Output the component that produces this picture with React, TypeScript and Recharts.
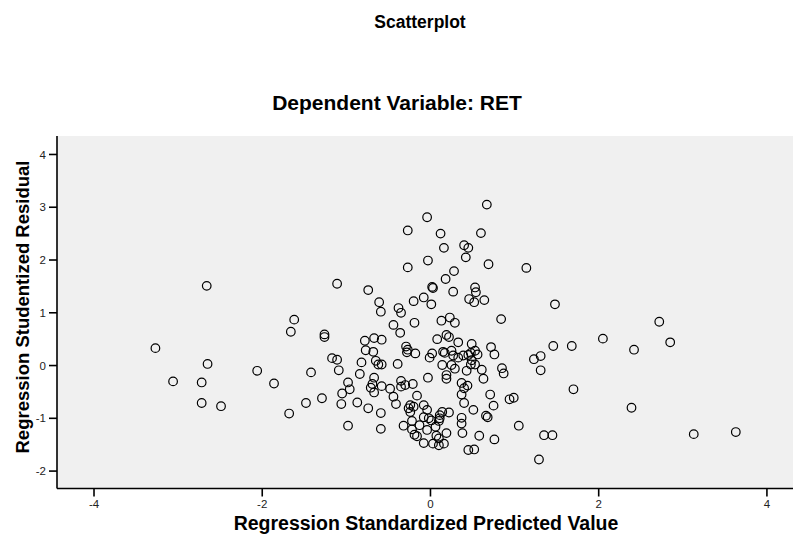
import React from "react";
import { ScatterChart, Scatter, XAxis, YAxis, CartesianGrid } from "recharts";

const chartTitle = "Scatterplot";
const chartSubtitle = "Dependent Variable: RET";
const xTitle = "Regression Standardized Predicted Value";
const yTitle = "Regression Studentized Residual";

const xTicks = [-4, -2, 0, 2, 4];
const yTicks = [-2, -1, 0, 1, 2, 3, 4];
const xDomain = [-4.44, 4.31];
const yDomain = [-2.33, 4.35];

// Regression Standardized Predicted Value
const predicted = [
  -3.27, -3.06, -2.72, -2.65, -2.72, -2.49, -2.66, -2.06, -1.86, -1.68,
  -1.66, -1.62, -1.48, -1.42, -1.29, -1.26, -1.26, -1.17, -1.11, -1.11,
  -1.09, -1.06, -1.05, -0.98, -0.96, -0.98, -0.87, -0.84, -0.82, -0.78,
  -0.77, -0.74, -0.74, -0.68, -0.67, -0.67, -0.69, -0.71, -0.67, -0.65,
  -0.62, -0.58, -0.58, -0.58, -0.59, -0.59, -0.61, -0.59, -0.48, -0.44,
  -0.44, -0.41, -0.39, -0.38, -0.35, -0.36, -0.35, -0.35, -0.30, -0.29,
  -0.27, -0.28, -0.32, -0.27, -0.27, -0.21, -0.20, -0.19, -0.18, -0.16,
  -0.24, -0.20, -0.26, -0.24, -0.22, -0.13, -0.22, -0.19, -0.16, -0.08,
  -0.08, -0.04, -0.08, -0.02, 0.01, -0.04, -0.08, -0.04, -0.03, 0.01,
  0.02, 0.03, -0.03, 0.02, -0.01, 0.03, 0.10, 0.16, 0.07, 0.10,
  0.06, 0.08, 0.12, 0.13, 0.14, 0.15, 0.17, 0.16, 0.18, 0.19,
  0.22, 0.19, 0.19, 0.19, 0.14, 0.11, 0.11, 0.10, 0.22, 0.23,
  0.25, 0.27, 0.25, 0.29, 0.27, 0.28, 0.29, 0.33, 0.33, 0.37,
  0.44, 0.40, 0.37, 0.40, 0.37, 0.37, 0.38, 0.40, 0.45, 0.42,
  0.39, 0.43, 0.45, 0.48, 0.49, 0.49, 0.48, 0.53, 0.53, 0.56,
  0.46, 0.52, 0.53, 0.54, 0.45, 0.52, 0.51, 0.58, 0.60, 0.61,
  0.63, 0.64, 0.66, 0.68, 0.67, 0.69, 0.71, 0.72, 0.75, 0.76,
  0.76, 0.84, 0.85, 0.87, 0.94, 0.99, 1.05, 1.14, 1.23, 1.31,
  1.31, 1.29, 1.35, 1.45, 1.46, 1.48, 1.68, 1.70, 2.05, 2.39,
  2.42, 2.72, 2.85, 3.13, 3.63,
];

// Regression Studentized Residual
const residual = [
  0.33, -0.30, -0.32, 0.03, -0.71, -0.77, 1.51, -0.10, -0.34, -0.91,
  0.64, 0.87, -0.71, -0.13, -0.62, 0.59, 0.54, 0.14, 0.11, 1.55,
  -0.09, -0.73, -0.53, -0.32, -0.45, -1.14, -0.70, -0.16, 0.06, 0.47,
  0.29, 1.43, -0.81, 0.26, 0.52, -0.23, -0.35, -0.42, -0.51, 0.09,
  0.02, 0.02, 0.49, -0.39, -0.90, -1.20, 1.20, 1.02, -0.44, 0.77,
  -0.59, -0.73, 0.03, 1.09, 1.00, 0.62, -0.29, -0.40, -0.37, 0.36,
  0.30, 0.25, -1.14, 2.56, 1.86, -0.35, 1.22, 0.81, 0.23, -0.57,
  -0.75, -0.78, -0.81, -0.88, -1.05, -1.13, -1.21, -1.31, -1.34, 1.29,
  -0.75, -0.84, -0.98, -1.00, -1.04, -1.22, -1.47, 2.81, 1.99, 1.16,
  1.49, 1.47, -0.23, 0.23, 0.15, -1.48, -1.51, -1.48, -1.33, -1.38,
  -1.16, 0.50, 2.50, 0.85, 0.01, 0.26, 0.24, 2.23, 1.64, 0.58,
  0.54, -0.18, -0.25, -1.28, -0.88, -0.94, -1.00, -1.05, -0.89, 0.91,
  0.28, 0.19, 0.01, -0.06, 1.40, 1.79, 0.81, 0.44, 0.15, -0.33,
  -0.38, -0.43, -0.55, -0.71, -0.99, -1.10, -1.28, 2.28, 2.23, 2.05,
  0.19, -0.10, 0.20, 0.24, 0.41, 0.10, 0.02, 0.02, 0.28, 0.21,
  1.26, 1.20, 1.48, 1.39, -1.60, -1.59, -0.84, -1.33, 2.51, -0.08,
  -0.25, 1.24, -0.95, -0.98, 3.05, 1.92, -0.55, 0.35, -0.76, 0.21,
  -1.40, 0.88, -0.05, -0.15, -0.64, -0.61, -1.14, 1.85, 0.12, 0.18,
  -0.09, -1.78, -1.32, -1.32, 0.37, 1.16, 0.37, -0.45, 0.51, -0.80,
  0.30, 0.83, 0.44, -1.30, -1.26,
];

const points = predicted.map((x, i) => ({ x, y: residual[i] }));

const RingShape = (props: any) => {
  const { cx, cy } = props;
  if (cx == null || cy == null) return null;
  return <circle cx={cx} cy={cy} r={4.3} fill="none" stroke="#000" strokeWidth={1.2} />;
};

const font = "'Liberation Sans', Arial, sans-serif";

export default function App() {
  return (
    <div style={{ position: "absolute", left: 0, top: 0, width: 793, height: 535, background: "#fff", fontFamily: font, overflow: "hidden" }}>
      <ScatterChart width={793} height={535} margin={{ top: 136, right: 0, bottom: 0, left: 0 }}>
        <CartesianGrid horizontal={false} vertical={false} fill="#f0f0f0" stroke="none" />
        <XAxis
          xAxisId="top"
          orientation="top"
          type="number"
          dataKey="x"
          domain={xDomain}
          allowDataOverflow
          height={0}
          tick={false}
          tickLine={false}
          axisLine={{ stroke: "#000", strokeWidth: 1.6 }}
        />
        <XAxis
          type="number"
          dataKey="x"
          domain={xDomain}
          ticks={xTicks}
          allowDataOverflow
          height={46.5}
          tickSize={8}
          tickMargin={3}
          axisLine={{ stroke: "#000", strokeWidth: 1.6 }}
          tickLine={{ stroke: "#000", strokeWidth: 1.6 }}
          tick={{ fill: "#222", fontSize: 11.5, fontFamily: font }}
        />
        <YAxis
          type="number"
          dataKey="y"
          domain={yDomain}
          ticks={yTicks}
          allowDataOverflow
          width={57}
          tickSize={8}
          tickMargin={3}
          axisLine={{ stroke: "#000", strokeWidth: 1.6 }}
          tickLine={{ stroke: "#000", strokeWidth: 1.6 }}
          tick={{ fill: "#222", fontSize: 11.5, fontFamily: font }}
        />
        <Scatter data={points} shape={RingShape} isAnimationActive={false} />
        <Scatter xAxisId="top" data={[]} isAnimationActive={false} />
      </ScatterChart>
      <div style={{ position: "absolute", left: 420, top: 22, transform: "translate(-50%,-50%)", whiteSpace: "nowrap", fontWeight: "bold", fontSize: 17.5, color: "#000" }}>
        {chartTitle}
      </div>
      <div style={{ position: "absolute", left: 397, top: 103, transform: "translate(-50%,-50%)", whiteSpace: "nowrap", fontWeight: "bold", fontSize: 21, color: "#000" }}>
        {chartSubtitle}
      </div>
      <div style={{ position: "absolute", left: 426, top: 523, transform: "translate(-50%,-50%)", whiteSpace: "nowrap", fontWeight: "bold", fontSize: 19.5, lineHeight: "22px", color: "#000" }}>
        {xTitle}
      </div>
      <div style={{ position: "absolute", left: 23, top: 307, transform: "translate(-50%,-50%) rotate(-90deg)", whiteSpace: "nowrap", fontWeight: "bold", fontSize: 18.5, color: "#000" }}>
        {yTitle}
      </div>
    </div>
  );
}
